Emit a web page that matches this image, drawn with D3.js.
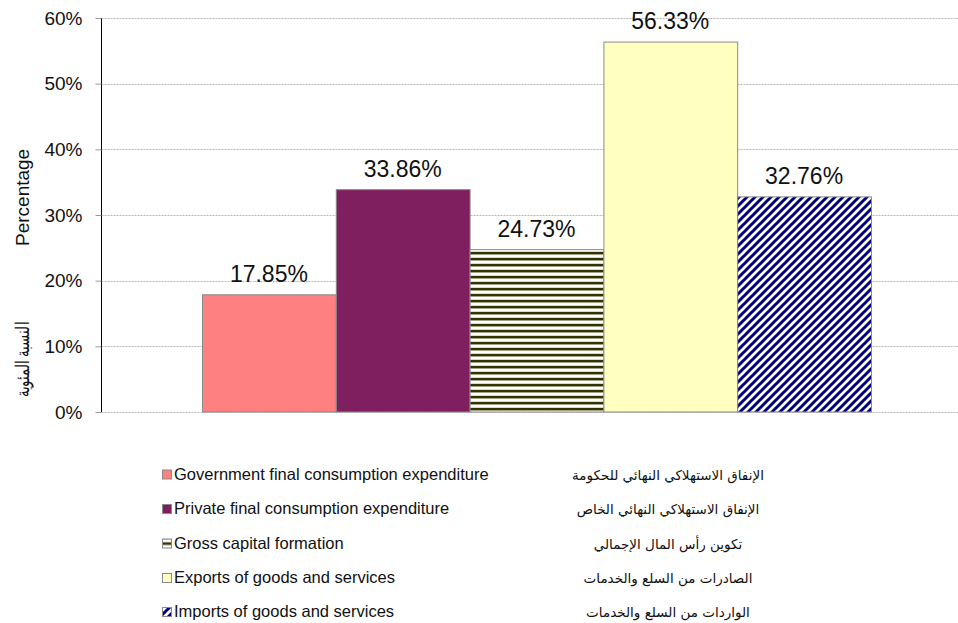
<!DOCTYPE html>
<html>
<head>
<meta charset="utf-8">
<script src="https://cdn.jsdelivr.net/npm/d3@7"></script>
<style>
  body { margin: 0; background: #fff; }
  svg { display: block; font-family: "Liberation Sans", Arial, sans-serif; }
</style>
</head>
<body>
<svg id="chart" width="958" height="623"></svg>
<script>
const seriesEn = [
  "Government final consumption expenditure",
  "Private final consumption expenditure",
  "Gross capital formation",
  "Exports of goods and services",
  "Imports of goods and services"
];
const seriesAr = [
  "الإنفاق الاستهلاكي النهائي للحكومة",
  "الإنفاق الاستهلاكي النهائي الخاص",
  "تكوين رأس المال الإجمالي",
  "الصادرات من السلع والخدمات",
  "الواردات من السلع والخدمات"
];
const values = [17.85, 33.86, 24.73, 56.33, 32.76];
const yTicks = [0, 10, 20, 30, 40, 50, 60];
const yTitleAr = "النسبة المئوية";
const yTitleEn = "Percentage";
const fills = ["#ff8080", "#801f5f", "url(#pGross)", "#ffffc0", "url(#pImports)"];

const svg = d3.select("#chart");
const W = 958;

// patterns
const defs = svg.append("defs");
const pg = defs.append("pattern").attr("id", "pGross").attr("patternUnits", "userSpaceOnUse")
  .attr("width", 6).attr("height", 6);
pg.append("rect").attr("width", 6).attr("height", 6).attr("fill", "#ffffff");
pg.append("rect").attr("y", 0).attr("width", 6).attr("height", 2).attr("fill", "#333300");
pg.append("rect").attr("y", 2).attr("width", 6).attr("height", 1).attr("fill", "#a3a38a");
pg.append("rect").attr("y", 5).attr("width", 6).attr("height", 1).attr("fill", "#d8d8d0");

const pi = defs.append("pattern").attr("id", "pImports").attr("patternUnits", "userSpaceOnUse")
  .attr("width", 8).attr("height", 8);
pi.append("rect").attr("width", 8).attr("height", 8).attr("fill", "#ffffff");
pi.append("path").attr("d", "M-2,2 L2,-2 M0,8 L8,0 M6,10 L10,6")
  .attr("stroke", "#000080").attr("stroke-width", 3);

// scales
const y = d3.scaleLinear().domain([0, 60]).range([412, 18]);
const x = d3.scaleBand().domain(d3.range(values.length)).range([202, 871]).padding(0);
const axisX = 101.5;

// gridlines
svg.append("g").selectAll("line").data(yTicks).join("line")
  .attr("x1", axisX).attr("x2", W)
  .attr("y1", d => Math.round(y(d)) + 0.5).attr("y2", d => Math.round(y(d)) + 0.5)
  .attr("stroke", "#b8b8b8").attr("stroke-width", 1).attr("stroke-dasharray", "2,1");

// bars
svg.append("g").selectAll("rect").data(values).join("rect")
  .attr("x", (d, i) => x(i) + 0.5)
  .attr("y", d => y(d))
  .attr("width", x.bandwidth())
  .attr("height", d => y(0) - y(d))
  .attr("fill", (d, i) => fills[i])
  .attr("stroke", "#8a8a8a").attr("stroke-width", 1);

// bar labels
svg.append("g").selectAll("text").data(values).join("text")
  .attr("x", (d, i) => x(i) + x.bandwidth() / 2)
  .attr("y", d => y(d) - 13)
  .attr("text-anchor", "middle")
  .attr("font-size", 23)
  .attr("fill", "#111")
  .text(d => d.toFixed(2) + "%");

// y axis
const yAxis = d3.axisLeft(y).tickValues(yTicks).tickFormat(d => d + "%").tickSize(6).tickPadding(13);
const ga = svg.append("g").attr("transform", `translate(${axisX},0)`).call(yAxis);
ga.select(".domain").attr("stroke", "#000").attr("d", `M0,${y(60)}V${y(0)}`);
ga.selectAll(".tick line").attr("stroke", "#999");
ga.selectAll(".tick text").attr("font-size", 19).attr("fill", "#111")
  .attr("font-family", "'Liberation Sans', Arial, sans-serif");

// y title (Arabic part at bottom, English above)
svg.append("text")
  .attr("transform", "translate(29,397) rotate(-90)")
  .attr("text-anchor", "start")
  .attr("font-size", 19)
  .attr("fill", "#111")
  .attr("textLength", 75)
  .attr("lengthAdjust", "spacingAndGlyphs")
  .text(yTitleAr);
svg.append("text")
  .attr("transform", "translate(29,246) rotate(-90)")
  .attr("text-anchor", "start")
  .attr("font-size", 19)
  .attr("fill", "#111")
  .text(yTitleEn);

// legend
const legendY = [479.5, 514, 548.5, 583, 617];
const lg = svg.append("g");
const rows = lg.selectAll("g").data(seriesEn).join("g")
  .attr("transform", (d, i) => `translate(0,${legendY[i]})`);
rows.append("rect")
  .attr("x", 162.5).attr("y", -9.5).attr("width", 9).attr("height", 9)
  .attr("fill", (d, i) => fills[i])
  .attr("stroke", "#8a8a8a").attr("stroke-width", 1);
rows.append("text")
  .attr("x", 174).attr("y", 0)
  .attr("font-size", 16.5).attr("fill", "#111")
  .text(d => d);
rows.append("text")
  .attr("x", 668).attr("y", 0)
  .attr("text-anchor", "middle")
  .attr("font-size", 13.5).attr("fill", "#111")
  .attr("font-family", "'DejaVu Sans', 'Noto Sans', sans-serif")
  .text((d, i) => seriesAr[i]);
</script>
</body>
</html>
